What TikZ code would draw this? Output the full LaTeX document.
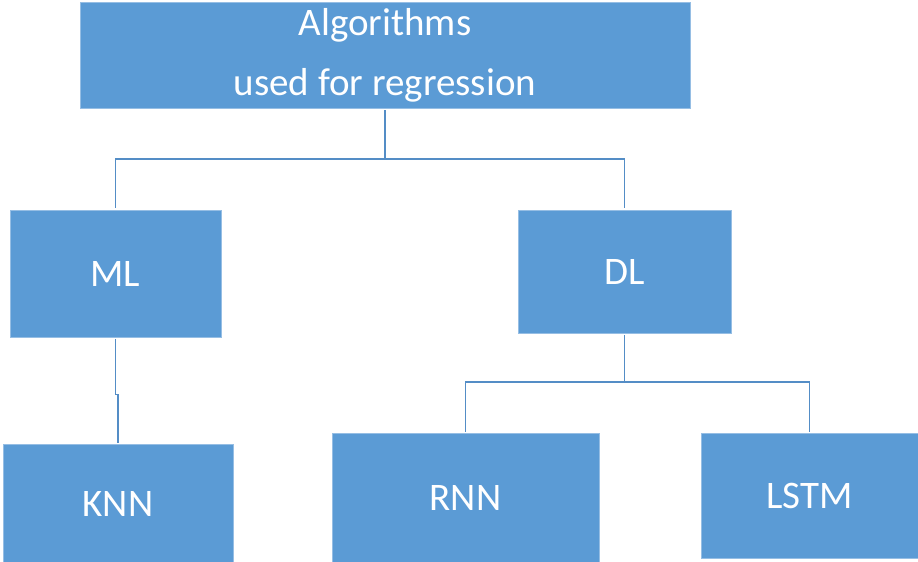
\documentclass[tikz,border=0pt]{standalone}
\usepackage{fontspec}
\setmainfont{Carlito}
\definecolor{boxblue}{RGB}{91,155,213}
\definecolor{edgeblue}{RGB}{150,190,228}
\definecolor{wireblue}{RGB}{84,141,198}
\tikzset{
  block/.style={rectangle, fill=boxblue, draw=edgeblue, line width=0.8pt,
    text=white, inner sep=0pt, font=\fontsize{39}{60}\selectfont, align=center},
  wire/.style={draw=wireblue, line width=1.4pt}
}
\begin{document}
\begin{tikzpicture}[x=1pt, y=-1pt]
  \useasboundingbox (0,0) rectangle (918,562);
  % boxes: centre, width, height in pixel units (y grows downwards)
  \node[block, minimum width=610, minimum height=106] (root) at (385,55)
    {Algorithms\\used for regression};
  \node[block, minimum width=211, minimum height=127] (ml)   at (115.5,273.5) {ML};
  \node[block, minimum width=213, minimum height=123] (dl)   at (624.5,271.5) {DL};
  \node[block, minimum width=230, minimum height=119] (knn)  at (118,503.5) {KNN};
  \node[block, minimum width=267, minimum height=129] (rnn)  at (465.5,497.5) {RNN};
  \node[block, minimum width=217, minimum height=125] (lstm) at (809.5,495.5) {LSTM};
  % branch junctions
  \coordinate (rootbus) at (385,159);
  \coordinate (dlbus)   at (624.5,382);
  % root to ML and DL
  \draw[wire] ([yshift=-2]root.south) -- (rootbus);
  \draw[wire] ([yshift=2]ml.north) |- (rootbus) -| ([yshift=2]dl.north);
  % ML to KNN, with its small jog halfway down
  \draw[wire] ([yshift=-2]ml.south) -- ++(0,55) -| ([yshift=1]knn.north);
  % DL to RNN and LSTM
  \draw[wire] ([yshift=-2]dl.south) -- (dlbus);
  \draw[wire] ([yshift=1]rnn.north) |- (dlbus) -| ([yshift=1]lstm.north);
\end{tikzpicture}
\end{document}
